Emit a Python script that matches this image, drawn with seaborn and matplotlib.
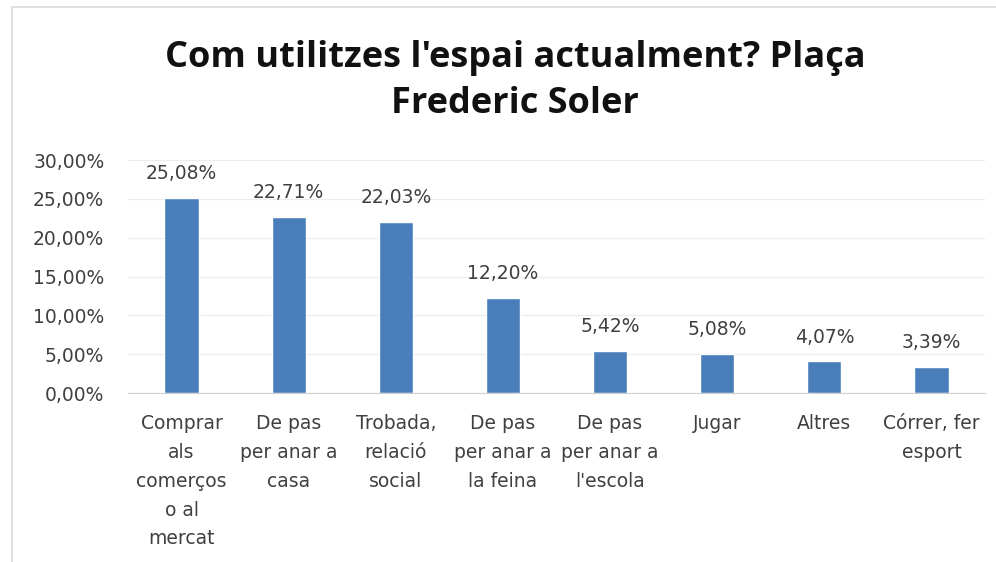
import matplotlib
matplotlib.use("Agg")
import matplotlib.pyplot as plt
import seaborn as sns
import pandas as pd
from matplotlib.ticker import FuncFormatter
from matplotlib.patches import Rectangle

# data
categories = [
    "Comprar\nals\ncomerços\no al\nmercat",
    "De pas\nper anar a\ncasa",
    "Trobada,\nrelació\nsocial",
    "De pas\nper anar a\nla feina",
    "De pas\nper anar a\nl'escola",
    "Jugar",
    "Altres",
    "Córrer, fer\nesport",
]
values = [25.08, 22.71, 22.03, 12.20, 5.42, 5.08, 4.07, 3.39]

df = pd.DataFrame({"cat": categories, "val": [v / 100 for v in values]})

sns.set_style("white")
plt.rcParams["font.family"] = ["DejaVu Sans"]

fig = plt.figure(figsize=(9.96, 5.62), dpi=100)
ax = fig.add_axes([0.1285, 0.3007, 0.8605, 0.4146])

sns.barplot(data=df, x="cat", y="val", color="#4a7ebb", width=0.32,
            saturation=1, ax=ax)

ax.set_ylim(0, 0.30)
ax.set_yticks([0, 0.05, 0.10, 0.15, 0.20, 0.25, 0.30])
ax.yaxis.set_major_formatter(FuncFormatter(lambda v, p: f"{v*100:.2f}%".replace(".", ",")))
ax.grid(axis="y", color="#ececec", linewidth=0.9)
ax.set_axisbelow(True)
for s in ["top", "right", "left"]:
    ax.spines[s].set_visible(False)
ax.spines["bottom"].set_color("#d0d0d0")
ax.tick_params(axis="y", length=0, labelsize=13.5, colors="#404040", pad=17)
ax.tick_params(axis="x", length=0, labelsize=13.5, colors="#404040", pad=15)
for lab in ax.get_xticklabels():
    lab.set_linespacing(1.66)
ax.set_xlabel("")
ax.set_ylabel("")

for i, v in enumerate(values):
    ax.text(i, v / 100 + 0.019, f"{v:.2f}%".replace(".", ","), ha="center",
            va="bottom", fontsize=13.5, color="#404040")

fig.text(0.517, 0.856, "Com utilitzes l'espai actualment? Plaça\nFrederic Soler",
         ha="center", va="center", fontsize=26, fontweight="bold",
         family=["Open Sans", "DejaVu Sans"],
         color="#111111", linespacing=1.4)

fig.patches.append(Rectangle((12 / 996, -0.01), 1.1, 1 - 7 / 562 + 0.01,
                             transform=fig.transFigure, fill=False,
                             edgecolor="#d9d9d9", linewidth=1.2))

fig.savefig("out.png", dpi=100)
